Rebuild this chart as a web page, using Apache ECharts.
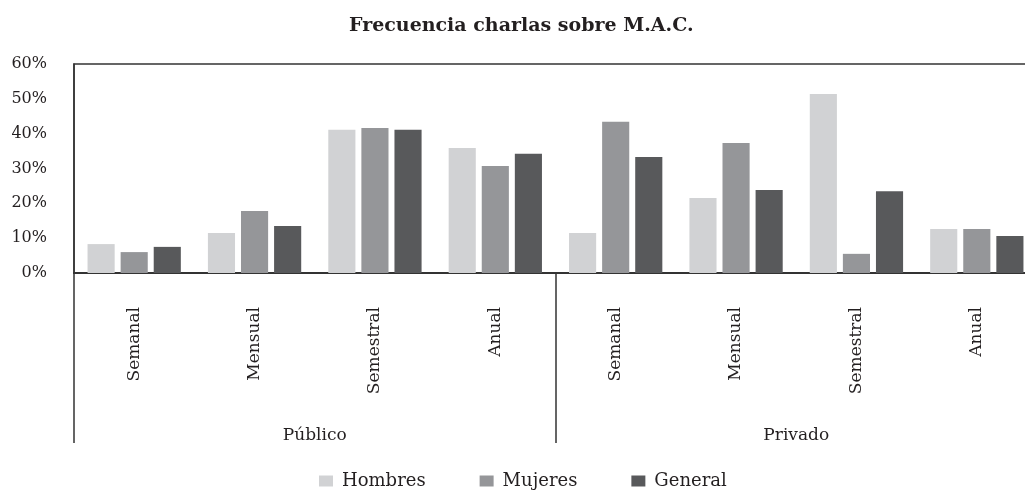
<!DOCTYPE html>
<html>
<head>
<meta charset="utf-8">
<script src="https://cdn.jsdelivr.net/npm/echarts@6/dist/echarts.min.js"></script>
<style>
  html, body { margin: 0; padding: 0; background: #fff; }
  #chart { width: 1025px; height: 490px; }
</style>
</head>
<body>
<div id="chart"></div>
<script>
// categorías (4 frecuencias x 2 sectores)
const categories = ["Semanal", "Mensual", "Semestral", "Anual", "Semanal", "Mensual", "Semestral", "Anual"];
const groups = ["Público", "Privado"];
const yTicks = [0, 10, 20, 30, 40, 50, 60];

// valores en %
const hombres = [8.3, 11.5, 41.1, 35.9, 11.5, 21.5, 51.4, 12.6];
const mujeres = [6.0, 17.8, 41.6, 30.7, 43.4, 37.3, 5.5, 12.6];
const general = [7.5, 13.5, 41.1, 34.2, 33.3, 23.8, 23.5, 10.6];

const font = "DejaVu Serif";
const textColor = "#231f20";

const chart = echarts.init(document.getElementById("chart"));

const barSeries = (name, data, color) => ({
  name: name,
  type: "bar",
  data: data,
  barGap: "22%",
  barCategoryGap: "22.5%",
  itemStyle: { color: color },
});

chart.setOption({
  animation: false,
  title: {
    text: "Frecuencia charlas sobre M.A.C.",
    left: 344,
    top: 12,
    textStyle: { fontFamily: font, fontWeight: "bold", fontSize: 19, color: textColor },
  },
  legend: {
    top: 467,
    left: 314,
    itemWidth: 14,
    itemHeight: 11,
    itemGap: 54,
    icon: "rect",
    textStyle: { fontFamily: font, fontSize: 18, color: textColor, padding: [0, 0, 0, 4] },
    data: ["Hombres", "Mujeres", "General"],
  },
  grid: {
    left: 74,
    top: 64,
    width: 963,
    height: 209,
    outerBoundsMode: "none",
    show: true,
    borderColor: "#333",
    borderWidth: 1.5,
  },
  xAxis: [
    {
      type: "category",
      data: categories,
      axisLine: { lineStyle: { color: "#333", width: 2 } },
      axisTick: { show: false },
      axisLabel: {
        rotate: 90,
        margin: 34,
        fontFamily: font,
        fontSize: 17,
        color: textColor,
        verticalAlign: "middle",
      },
    },
    {
      type: "category",
      data: groups,
      position: "bottom",
      axisLine: { show: false },
      axisTick: { show: true, length: 170, lineStyle: { color: "#333", width: 1.5 } },
      axisLabel: {
        margin: 154,
        fontFamily: font,
        fontSize: 17,
        color: textColor,
      },
    },
  ],
  yAxis: {
    type: "value",
    min: yTicks[0],
    max: yTicks[yTicks.length - 1],
    interval: 10,
    splitLine: { show: false },
    axisLine: { show: true, lineStyle: { color: "#333", width: 1.5 } },
    axisTick: { show: false },
    axisLabel: {
      margin: 27,
      fontFamily: font,
      fontSize: 16,
      color: textColor,
      formatter: (v) => v + "%",
    },
  },
  series: [
    barSeries("Hombres", hombres, "#d1d2d4"),
    barSeries("Mujeres", mujeres, "#959699"),
    barSeries("General", general, "#58595b"),
  ],
});
</script>
</body>
</html>
